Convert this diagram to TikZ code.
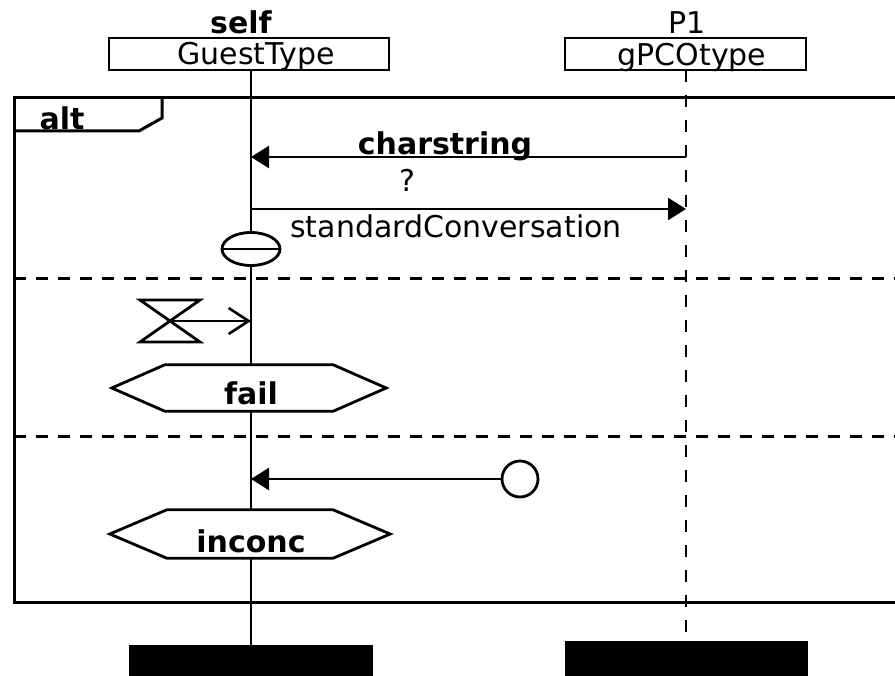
\documentclass[tikz,border=0pt]{standalone}
\usepackage{fontspec}
\setmainfont{DejaVu Sans}
\usetikzlibrary{arrows.meta,shapes.geometric}
\begin{document}
\begin{tikzpicture}[x=1pt,y=-1pt,
  txt/.style={font=\fontsize{30}{34}\selectfont, inner sep=0, anchor=base},
  btxt/.style={font=\fontsize{30}{34}\selectfont\bfseries, inner sep=0, anchor=base},
  hdr/.style={draw, line width=2.6pt, minimum width=#1, minimum height=32, inner sep=0},
  bar/.style={fill=black, minimum width=#1, inner sep=0},
  life/.style={line width=2.4pt},
  msg/.style={line width=2.6pt, -{Triangle[length=18pt,width=22pt]}},
  sep/.style={line width=3pt, dash pattern=on 12pt off 10pt},
  frm/.style={line width=3pt},
  hexbox/.style={inner sep=0, minimum width=#1, minimum height=46},
  hexline/.style={line width=2.8pt, fill=white}
]
\clip (0,0) rectangle (895,676);
\fill[white] (0,0) rectangle (895,676);

% frame
\draw[frm] (905,98) -- (14,98) -- (14,602) -- (905,602);
\draw[frm] (162,98) -- (162,118) -- (139,131) -- (14,131);
\node[btxt] (alt) at (62,130) {alt};

% headers
\node[btxt] (selfname) at (241,34) {self};
\node[hdr=280] (gt) at (249,54) {};
\node[txt] (gtname) at (256,65) {GuestType};
\node[txt] (p1name) at (687,34) {P1};
\node[hdr=241] (gp) at (685.5,54) {};
\node[txt] (gpname) at (692,66) {gPCOtype};

% end bars
\node[bar=244, minimum height=34, anchor=north] (bar1) at (251,645) {};
\node[bar=243, minimum height=38, anchor=north] (bar2) at (686.5,641) {};

% lifelines
\coordinate (l1top) at (251,70);
\coordinate (l2top) at (686,70);
\draw[life] (l1top) -- (bar1.north -| l1top);
\draw[life, line width=2.8pt, dash pattern=on 12pt off 13pt] (l2top) -- (bar2.north -| l2top);

% separators
\draw[sep] (14,279) -- (905,279);
\draw[sep] (14,437) -- (905,437);

% messages
\coordinate (a1) at (251,157);
\coordinate (b1) at (686,157);
\draw[msg] (b1) -- (a1);
\node[btxt] (charstring) at (445,155) {charstring};
\node[txt] (q) at (407,192) {?};
\coordinate (a2) at (251,209);
\coordinate (b2) at (686,209);
\draw[msg] (a2) -- (b2);
\node[txt] (stdconv) at (456,238) {standardConversation};

% stop ellipse
\node[draw, ellipse, line width=2.8pt, fill=white, minimum width=58, minimum height=33, inner sep=0] (stop) at (251,249) {};
\draw[line width=2.4pt] (stop.west) -- (stop.east);

% timer
\coordinate (tm) at (170,321);
\coordinate (a3) at (251,321);
\draw[line width=2.8pt] (140,300) -- (200,300) -- (140,342) -- (200,342) -- cycle;
\draw[line width=2.6pt, -{Straight Barb[length=20pt,width=26pt]}] (tm) -- (a3);

% fail verdict
\node[hexbox=274] (fail) at (249,388) {};
\draw[hexline] (fail.west) -- ([xshift=53]fail.north west) -- ([xshift=-53]fail.north east) -- (fail.east) -- ([xshift=-53]fail.south east) -- ([xshift=53]fail.south west) -- cycle;
\node[btxt] (failtxt) at (251,405) {fail};

% found message
\node[draw, circle, line width=2.8pt, fill=white, minimum size=36, inner sep=0] (src) at (520,479) {};
\coordinate (a4) at (251,479);
\draw[msg] (src.west) -- (a4);

% inconc verdict
\node[hexbox=280, minimum height=48] (inconc) at (250,534) {};
\draw[hexline] (inconc.west) -- ([xshift=57]inconc.north west) -- ([xshift=-57]inconc.north east) -- (inconc.east) -- ([xshift=-57]inconc.south east) -- ([xshift=57]inconc.south west) -- cycle;
\node[btxt] (inconctxt) at (251,552) {inconc};
\end{tikzpicture}
\end{document}
